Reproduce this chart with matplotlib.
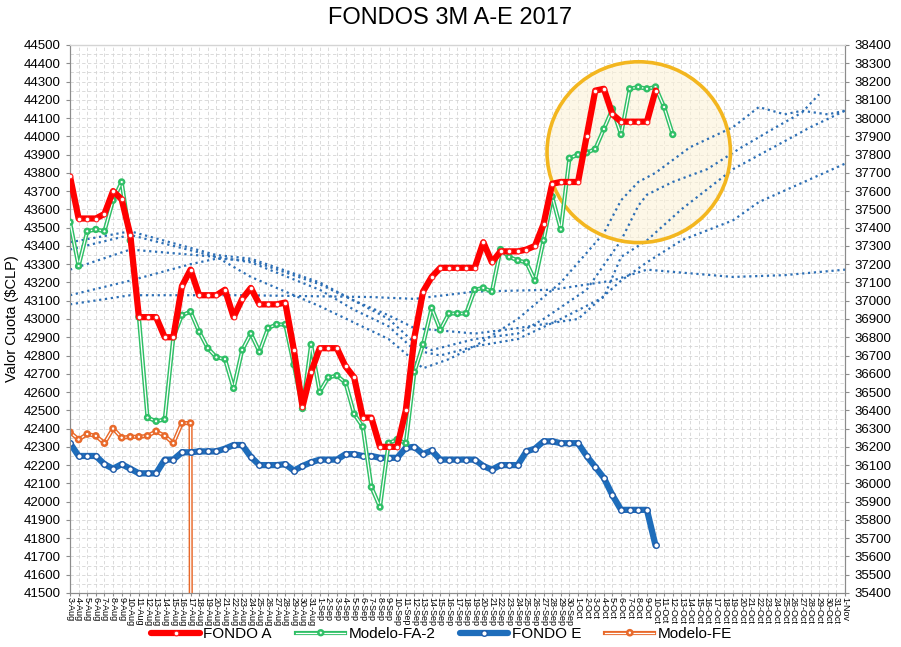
import numpy as np
import pandas as pd
import matplotlib
matplotlib.use("Agg")
import matplotlib.pyplot as plt
import matplotlib.patheffects as pe
from matplotlib.patches import Ellipse
from matplotlib.ticker import MultipleLocator

plt.rcParams['font.family'] = ['Liberation Sans', 'DejaVu Sans']

# one label per day, 3-Aug .. 1-Nov
dates = pd.date_range('2017-08-03', '2017-11-01')
labels = [f"{d.day}-{d.strftime('%b')}" for d in dates]
x = np.arange(len(dates))

# left axis series (3-Aug onwards)
fondo_a = [43780, 43550, 43550, 43550, 43575, 43700, 43655, 43460, 43010, 43010,
           43010, 42900, 42900, 43180, 43270, 43130, 43130, 43130, 43160, 43010,
           43110, 43170, 43080, 43080, 43080, 43090, 42830, 42520, 42710,
           42840, 42840, 42840, 42740, 42680, 42460, 42460, 42300, 42300, 42300,
           42500, 42900, 43150, 43230, 43280, 43280, 43280, 43280, 43280, 43420,
           43310, 43370, 43370, 43370, 43380, 43400, 43520, 43740, 43750, 43750,
           43750, 44000, 44250, 44260, 44120, 44080, 44080, 44080, 44080, 44250]
modelo_fa2 = [43530, 43290, 43480, 43490, 43480, 43650, 43750, 43430, 43010, 42460,
              42440, 42450, 42900, 43020, 43040, 42930, 42840, 42790, 42780, 42620,
              42830, 42920, 42820, 42950, 42970, 42970, 42750, 42510, 42860,
              42600, 42680, 42690, 42650, 42480, 42410, 42080, 41970, 42320, 42340,
              42320, 42710, 42860, 43060, 42940, 43030, 43030, 43030, 43160, 43170,
              43150, 43380, 43340, 43320, 43310, 43210, 43430, 43670, 43490, 43880,
              43900, 43910, 43930, 44040, 44150, 44010, 44260, 44270, 44260, 44270,
              44160, 44010]

# right axis series
fondo_e = [36220, 36150, 36150, 36150, 36105, 36080, 36105, 36080, 36055, 36055,
           36055, 36130, 36130, 36170, 36170, 36175, 36175, 36175, 36190, 36210,
           36210, 36145, 36100, 36100, 36100, 36105, 36070, 36095, 36115,
           36130, 36130, 36130, 36160, 36160, 36150, 36150, 36140, 36140, 36140,
           36195, 36200, 36160, 36180, 36130, 36130, 36130, 36130, 36130, 36095,
           36075, 36100, 36100, 36100, 36175, 36190, 36230, 36230, 36220, 36220,
           36220, 36150, 36090, 36030, 35935, 35855, 35855, 35855, 35855, 35660]
modelo_fe = [36280, 36240, 36270, 36260, 36220, 36300, 36250, 36255, 36255, 36260,
             36285, 36260, 36220, 36330, 36330, 0]

# dotted trend lines (right axis), read at selected days
trend1_days = ['3-Aug', '10-Aug', '20-Aug', '24-Aug', '1-Sep', '5-Sep', '9-Sep', '12-Sep',
               '13-Sep', '16-Sep', '19-Sep', '24-Sep', '29-Sep', '4-Oct', '6-Oct', '8-Oct',
               '10-Oct', '14-Oct', '19-Oct', '22-Oct', '25-Oct', '27-Oct', '30-Oct', '1-Nov']
trend1_vals = [37280, 37360, 37240, 37130, 36970, 36880, 36790, 36670,
               36630, 36680, 36750, 36900, 37100, 37370, 37550, 37650,
               37700, 37840, 37950, 38060, 38020, 38040, 38020, 38040]
trend2_days = ['3-Aug', '10-Aug', '20-Aug', '24-Aug', '1-Sep', '5-Sep', '9-Sep', '12-Sep',
               '14-Sep', '19-Sep', '24-Sep', '27-Sep', '2-Oct', '6-Oct', '8-Oct', '9-Oct',
               '12-Oct', '16-Oct', '20-Oct', '24-Oct', '27-Oct', '29-Oct']
trend2_vals = [37320, 37380, 37250, 37230, 37100, 37000, 36900, 36770,
               36730, 36790, 36820, 36900, 37060, 37330, 37520, 37580,
               37650, 37720, 37840, 37950, 38030, 38130]
trend3_days = ['3-Aug', '10-Aug', '20-Aug', '24-Aug', '1-Sep', '5-Sep', '9-Sep', '12-Sep',
               '15-Sep', '19-Sep', '24-Sep', '29-Sep', '4-Oct', '6-Oct', '9-Oct', '13-Oct',
               '19-Oct', '28-Oct', '1-Nov']
trend3_vals = [37170, 37280, 37240, 37210, 37060, 36950, 36860, 36730,
               36700, 36750, 36790, 36900, 37020, 37240, 37330, 37500,
               37720, 37950, 38040]
trend4_days = ['3-Aug', '10-Aug', '17-Aug', '20-Aug', '24-Aug', '1-Sep', '5-Sep', '9-Sep',
               '12-Sep', '19-Sep', '24-Sep', '1-Oct', '6-Oct', '9-Oct', '13-Oct', '19-Oct',
               '22-Oct', '1-Nov']
trend4_vals = [37030, 37110, 37200, 37230, 37220, 37090, 37000, 36920,
               36850, 36820, 36850, 36900, 37110, 37210, 37330, 37440,
               37540, 37750]
trend5_days = ['3-Aug', '10-Aug', '23-Aug', '7-Sep', '12-Sep', '19-Sep', '28-Sep', '5-Oct',
               '9-Oct', '19-Oct', '25-Oct', '1-Nov']
trend5_vals = [36980, 37030, 37030, 37020, 37010, 37050, 37060, 37110,
               37170, 37130, 37140, 37170]

fig = plt.figure(figsize=(9.01, 6.47), dpi=100)
ax2 = fig.add_axes([0.0777, 0.0835, 0.8601, 0.847])
ax = ax2.twinx()
# left-axis series drawn on top, right-axis stuff (and grid) underneath
ax2.yaxis.tick_right()
ax.yaxis.tick_left()
ax.yaxis.set_label_position('left')

ax.set_xlim(0, len(x) - 1)
ax.set_ylim(41500, 44500)
ax2.set_ylim(35400, 38400)
ax.set_yticks(np.arange(41500, 44501, 100))
ax2.set_yticks(np.arange(35400, 38401, 100))
ax2.yaxis.set_minor_locator(MultipleLocator(50))
ax2.set_xticks(x)
ax2.set_xticklabels(labels, rotation=270, fontsize=6.5)
ax2.grid(which='both', ls=(0, (4, 3)), color='#d4d4d4', lw=0.6)
ax2.set_axisbelow(True)

for a in (ax, ax2):
    for s in a.spines.values():
        s.set_color('#8c8c8c')
    a.tick_params(axis='y', labelsize=9.5, color='#8c8c8c', length=3)
    a.tick_params(axis='x', length=2, color='#8c8c8c', pad=1)
    a.tick_params(axis='y', which='minor', length=0)
ax.spines['top'].set_color('#d4d4d4')

# highlight circle
circle = Ellipse((66.05, 43913 - 6100), width=21.3, height=990, facecolor='#fdf3d8',
                 alpha=0.6, edgecolor='none', zorder=1)
ax2.add_patch(circle)
ring = Ellipse((66.05, 43913 - 6100), width=21.3, height=990, facecolor='none',
               edgecolor='#f3b61f', lw=2.6, zorder=3)
ax2.add_patch(ring)

for days, vals in [(trend1_days, trend1_vals), (trend2_days, trend2_vals),
                   (trend3_days, trend3_vals), (trend4_days, trend4_vals),
                   (trend5_days, trend5_vals)]:
    xs = [labels.index(d) for d in days]
    ax2.plot(xs, vals, ls=':', color='#2d6fb5', lw=1.6, zorder=2)

l_fe, = ax2.plot(x[:len(modelo_fe)], modelo_fe, color='white', lw=0.9,
                 marker='o', ms=2.5, mfc='white', mec='#e8692a', mew=0.7,
                 path_effects=[pe.Stroke(linewidth=3.0, foreground='#e8692a'), pe.Normal()],
                 label='Modelo-FE', zorder=4)
l_e, = ax2.plot(x[:len(fondo_e)], fondo_e, color='#1e6dbb', lw=4.5,
                marker='o', ms=4, mfc='white', mec='#1e5aa8', mew=1.0,
                solid_joinstyle='round', solid_capstyle='round', label='FONDO E', zorder=5)

l_fa2, = ax.plot(x[:len(modelo_fa2)], modelo_fa2, color='white', lw=0.9,
                 marker='o', ms=2.3, mfc='white', mec='#2fbf66', mew=0.6,
                 path_effects=[pe.Stroke(linewidth=3.0, foreground='#2fbf66'), pe.Normal()],
                 label='Modelo-FA-2', zorder=4)
l_a, = ax.plot(x[:len(fondo_a)], fondo_a, color='#ff0000', lw=4.5,
               marker='o', ms=3.4, mfc='white', mec='#ff2020', mew=0.8,
               solid_joinstyle='round', solid_capstyle='round', label='FONDO A', zorder=5)

ax.set_ylabel('Valor Cuota (\\$CLP)', fontsize=10.5)
ax.yaxis.set_label_coords(-0.066, 0.5)

fig.text(0.5, 0.972, 'FONDOS 3M A-E 2017', ha='center', va='center', fontsize=17)

fig.legend([l_a, l_fa2, l_e, l_fe], ['FONDO A', 'Modelo-FA-2', 'FONDO E', 'Modelo-FE'],
           loc='center', bbox_to_anchor=(0.49, 0.02), ncol=4, frameon=False, numpoints=1,
           fontsize=11, handlelength=3.2, columnspacing=1.6, handletextpad=0.2)

fig.savefig('out.png', dpi=100)
